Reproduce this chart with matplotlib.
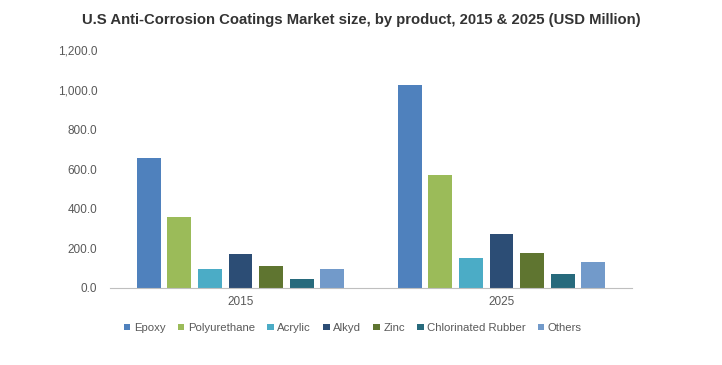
import matplotlib
matplotlib.use("Agg")
import matplotlib.pyplot as plt
from matplotlib.ticker import FuncFormatter
import numpy as np

plt.rcParams['font.family'] = ['Liberation Sans', 'DejaVu Sans']

years = ["2015", "2025"]
products = ["Epoxy", "Polyurethane", "Acrylic", "Alkyd", "Zinc", "Chlorinated Rubber", "Others"]
epoxy = [654, 1024]
polyurethane = [356, 571]
acrylic = [94, 153]
alkyd = [170, 274]
zinc = [109, 175]
chlorinated_rubber = [44, 72]
others = [94, 131]
series = [epoxy, polyurethane, acrylic, alkyd, zinc, chlorinated_rubber, others]
colors = ["#4F81BD", "#9BBB59", "#4BACC6", "#2C4D75", "#5F7530", "#276A7C", "#729ACA"]
yticks = [0, 200, 400, 600, 800, 1000, 1200]

fig = plt.figure(figsize=(7.22, 3.65), dpi=100)
ax = fig.add_axes([110/722, 1 - 288/365, (632-110)/722, (288-50)/365])

x = np.arange(len(years))
group = 0.82
slot = group / len(products)
width = slot * 0.78
for i, (name, vals, c) in enumerate(zip(products, series, colors)):
    ax.bar(x - group / 2 + slot * (i + 0.5), vals, width=width, color=c, label=name)

ax.set_xlim(-0.5, 1.5)
ax.set_ylim(0, 1200)
ax.set_yticks(yticks)
ax.yaxis.set_major_formatter(FuncFormatter(lambda v, p: f"{v:,.1f}"))
ax.set_xticks(x)
ax.set_xticklabels(years)
for s in ["top", "right", "left"]:
    ax.spines[s].set_visible(False)
ax.spines["bottom"].set_color("#BFBFBF")
ax.tick_params(axis="both", length=0, labelsize=8.5, colors="#595959", pad=9)
ax.tick_params(axis="x", pad=6)

fig.text(361/722, 1 - 20/365, "U.S Anti-Corrosion Coatings Market size, by product, 2015 & 2025 (USD Million)",
         ha="center", va="center", fontsize=10.7, fontweight="bold", color="#333333")

leg = ax.legend(loc="center", bbox_to_anchor=(353/722, 1 - 328/365), bbox_transform=fig.transFigure,
                ncol=7, frameon=False, fontsize=8.2, handlelength=0.55, handleheight=0.55,
                handletextpad=0.3, columnspacing=1.1, labelcolor="#595959")

fig.savefig("out.png", dpi=100)
